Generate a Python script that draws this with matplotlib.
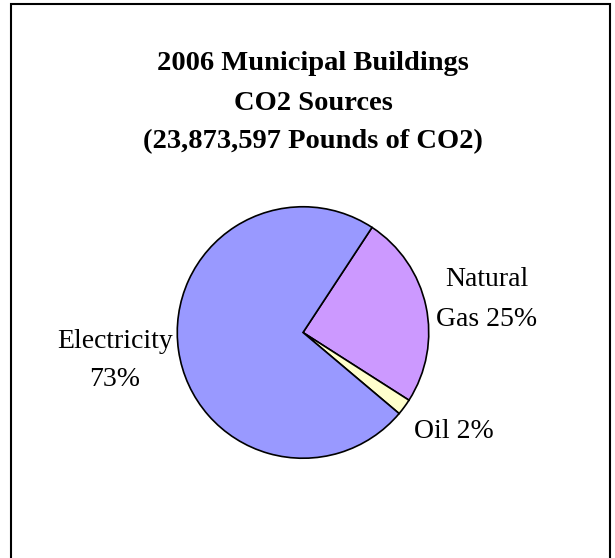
import matplotlib.pyplot as plt
from matplotlib.patches import Rectangle

# CO2 share by source, percent
sources = ["Natural Gas", "Oil", "Electricity"]
shares = [24.8, 2.1, 73.1]
colors = ["#CC99FF", "#FFFFCC", "#9999FF"]

title_lines = ["2006 Municipal Buildings", "CO2 Sources", "(23,873,597 Pounds of CO2)"]

W, H = 615, 558
fig = plt.figure(figsize=(W / 100, H / 100), dpi=100)
fig.patch.set_facecolor("white")

# chart frame (runs off the bottom edge)
fig.patches.append(Rectangle((11 / W, -0.05), 599 / W, 1.05 - 4 / H,
                             transform=fig.transFigure, fill=False,
                             edgecolor="black", linewidth=1.5))

serif = "Liberation Serif"

# title, one line at a time
for i, line in enumerate(title_lines):
    fig.text(313 / W, 1 - (64 + 39 * i) / H, line, ha="center", va="center",
             fontsize=20.5, fontweight="bold", family=serif)

# pie
cx, cy, r = 303, 332.5, 127
ax = fig.add_axes([(cx - r) / W, (H - cy - r) / H, 2 * r / W, 2 * r / H])
ax.pie(shares, colors=colors, startangle=56.7, counterclock=False,
       wedgeprops=dict(edgecolor="black", linewidth=1.2))
ax.set_xlim(-1.01, 1.01)
ax.set_ylim(-1.01, 1.01)
ax.set_aspect("equal")
ax.axis("off")

# labels beside the slices
pct = {s: f"{v:.0f}%" for s, v in zip(sources, shares)}
labels = [
    (["Natural", f"Gas {pct['Natural Gas']}"], 487, 280, 39),
    ([f"Oil {pct['Oil']}"], 454, 431, 0),
    (["Electricity", pct["Electricity"]], 115, 341, 39),
]
for lines, x, y, step in labels:
    for j, t in enumerate(lines):
        fig.text(x / W, 1 - (y + step * j) / H, t, ha="center", va="center",
                 fontsize=20, family=serif)

plt.savefig("out.png", dpi=100)
